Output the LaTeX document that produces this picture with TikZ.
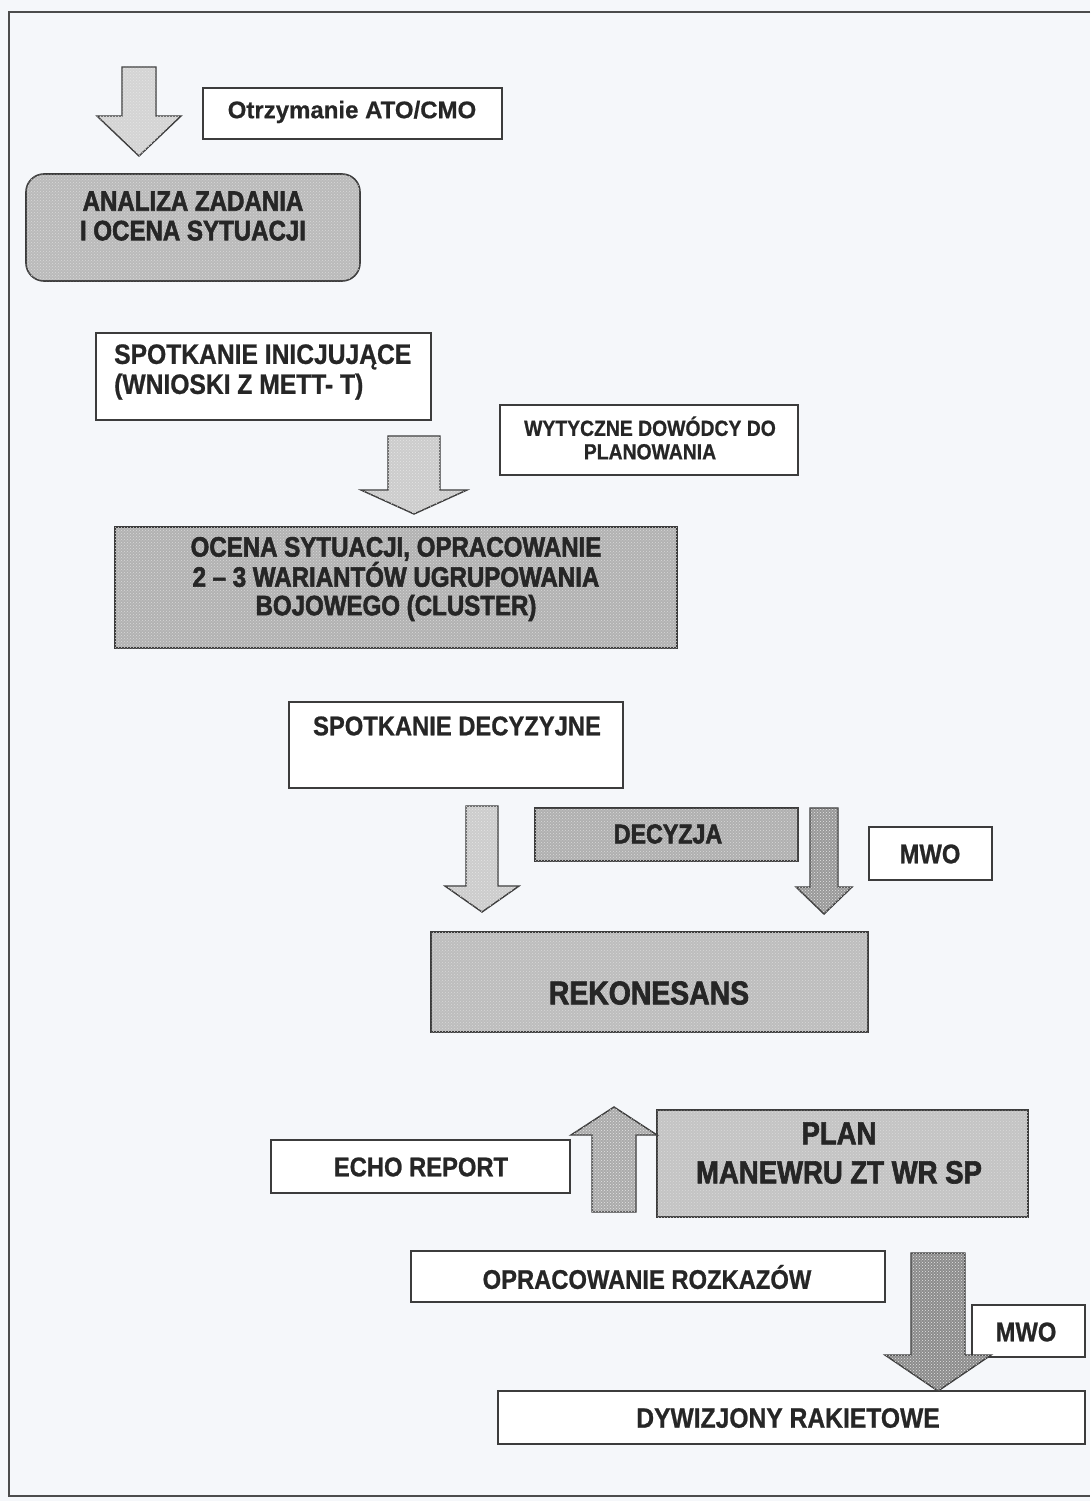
\documentclass[tikz,border=0pt]{standalone}
\usepackage{fontspec}
\setmainfont{Liberation Sans}
\newfontfamily\plainbold{Liberation Sans}[FakeBold=0.6]
\newfontfamily\medcond{Liberation Sans}[FakeStretch=0.88,FakeBold=0.8]
\newfontfamily\heavycond{Liberation Sans}[FakeStretch=0.86,FakeBold=2]
\usetikzlibrary{patterns,calc}

\definecolor{paper}{HTML}{F5F7FA}
\definecolor{ink}{HTML}{262626}
\definecolor{edge}{HTML}{3C3C3C}

% rectangular box given by its top-left and bottom-right corners
\newcommand\pbox[6]{\node[#2, minimum width={#5-#3}, minimum height={#6-#4}] (#1) at (#3,#4) {};}
% vertical block arrow: style, tail, tip, shaft half-width, head half-width, head length
\newcommand\blkarrow[6]{%
  \draw[#1] let \p1=(#2), \p2=(#3), \n1={sign(\y2-\y1)} in
    (\x2-#4,\y1) -- (\x2-#4,\y2-\n1*#6) -- (\x2-#5,\y2-\n1*#6) -- (\x2,\y2)
    -- (\x2+#5,\y2-\n1*#6) -- (\x2+#4,\y2-\n1*#6) -- (\x2+#4,\y1) -- cycle;}

\begin{document}
\begin{tikzpicture}[x=1pt,y=-1pt,
  frame/.style={draw=black!70, line width=1.6pt},
  box/.style={draw=edge, line width=1.6pt, fill=white, inner sep=0pt, outer sep=0pt, anchor=north west},
  shadebox/.style={box, fill=#1, postaction={pattern=crosshatch dots, pattern color=white!85!black}},
  roundbox/.style={shadebox=#1, rounded corners=18pt},
  blk/.style={draw=edge, line width=1.4pt, fill=#1, postaction={pattern=crosshatch dots, pattern color=white!90!black}},
  txt/.style={text=ink, inner sep=0pt, align=center},
  med/.style={txt, font=\medcond\bfseries\fontsize{#1}{#1}\selectfont},
  heavy/.style={txt, font=\heavycond\bfseries\fontsize{#1}{#1}\selectfont},
]
\useasboundingbox (0,0) rectangle (1090,1501);
\fill[paper] (0,0) rectangle (1090,1501);
\draw[frame] (1090,12) -- (9,12) -- (9,1496) -- (1090,1496);

% boxes
\pbox{ato}{box}{203}{88}{502}{139}
\pbox{analiza}{roundbox=black!27}{26}{174}{360}{281}
\pbox{inic}{box}{96}{333}{431}{420}
\pbox{wyt}{box}{500}{405}{798}{475}
\pbox{ocena}{shadebox=black!30}{115}{527}{677}{648}
\pbox{decyz}{box}{289}{702}{623}{788}
\pbox{decyzja}{shadebox=black!31}{535}{808}{798}{861}
\pbox{mwoA}{box}{869}{827}{992}{880}
\pbox{rek}{shadebox=black!26}{431}{932}{868}{1032}
\pbox{echo}{box}{271}{1140}{570}{1193}
\pbox{plan}{shadebox=black!23}{657}{1110}{1028}{1217}
\pbox{rozk}{box}{411}{1251}{885}{1302}
\pbox{mwoB}{box}{972}{1305}{1085}{1357}
\pbox{dyw}{box}{498}{1391}{1085}{1444}

% texts
\node[txt, font=\plainbold\bfseries\fontsize{24}{24}\selectfont] (ato-t) at (352,112) {Otrzymanie ATO/CMO};
\node[heavy=28, font=\heavycond\bfseries\fontsize{28}{29.5}\selectfont] (analiza-t) at (193,216) {ANALIZA ZADANIA\\I OCENA SYTUACJI};
\node[med=28, align=left, font=\medcond\bfseries\fontsize{28}{30}\selectfont, anchor=west] (inic-t) at (114,372) {SPOTKANIE INICJUJĄCE\\(WNIOSKI Z METT- T)};
\node[med=22, font=\medcond\bfseries\fontsize{22}{23.5}\selectfont] (wyt-t) at (650,438) {WYTYCZNE DOWÓDCY DO\\PLANOWANIA};
\node[heavy=28, font=\heavycond\bfseries\fontsize{28}{28.5}\selectfont] (ocena-t) at (396,579) {OCENA SYTUACJI, OPRACOWANIE\\2 – 3 WARIANTÓW UGRUPOWANIA\\BOJOWEGO (CLUSTER)};
\node[med=27] (decyz-t) at (457,726) {SPOTKANIE DECYZYJNE};
\node[heavy=27] (decyzja-t) at (668,834) {DECYZJA};
\node[med=27] (mwoA-t) at (930,854) {MWO};
\node[heavy=33] (rek-t) at (649,993) {REKONESANS};
\node[med=27] (echo-t) at (421,1167) {ECHO REPORT};
\node[heavy=32, font=\heavycond\bfseries\fontsize{32}{39}\selectfont] (plan-t) at (839,1153) {PLAN\\MANEWRU ZT WR SP};
\node[med=27] (rozk-t) at (647,1277) {OPRACOWANIE ROZKAZÓW};
\node[med=27] (mwoB-t) at (1026,1332) {MWO};
\node[med=28] (dyw-t) at (788,1418) {DYWIZJONY RAKIETOWE};

% arrow ends
\coordinate (a1s) at (139,67);
\coordinate (a1e) at (139,156);
\coordinate (a2s) at (414,436);
\coordinate (a2e) at (414,514);
\coordinate (a3s) at (482,806);
\coordinate (a3e) at (482,912);
\coordinate (a4s) at (824,808);
\coordinate (a4e) at (824,914);
\coordinate (a5s) at (614,1212);
\coordinate (a5e) at (614,1107);
\coordinate (a6s) at (938,1253);
\coordinate (a6e) at ($(dyw.north west)+(440,0)$);

% block arrows
\blkarrow{blk=black!17}{a1s}{a1e}{17pt}{42pt}{40pt}
\blkarrow{blk=black!20}{a2s}{a2e}{26pt}{53pt}{24pt}
\blkarrow{blk=black!20}{a3s}{a3e}{16pt}{37pt}{26pt}
\blkarrow{blk=black!40}{a4s}{a4e}{14pt}{28pt}{27pt}
\blkarrow{blk=black!33}{a5s}{a5e}{22pt}{43pt}{28pt}
\blkarrow{blk=black!45}{a6s}{a6e}{27pt}{53pt}{36pt}
\end{tikzpicture}
\end{document}
